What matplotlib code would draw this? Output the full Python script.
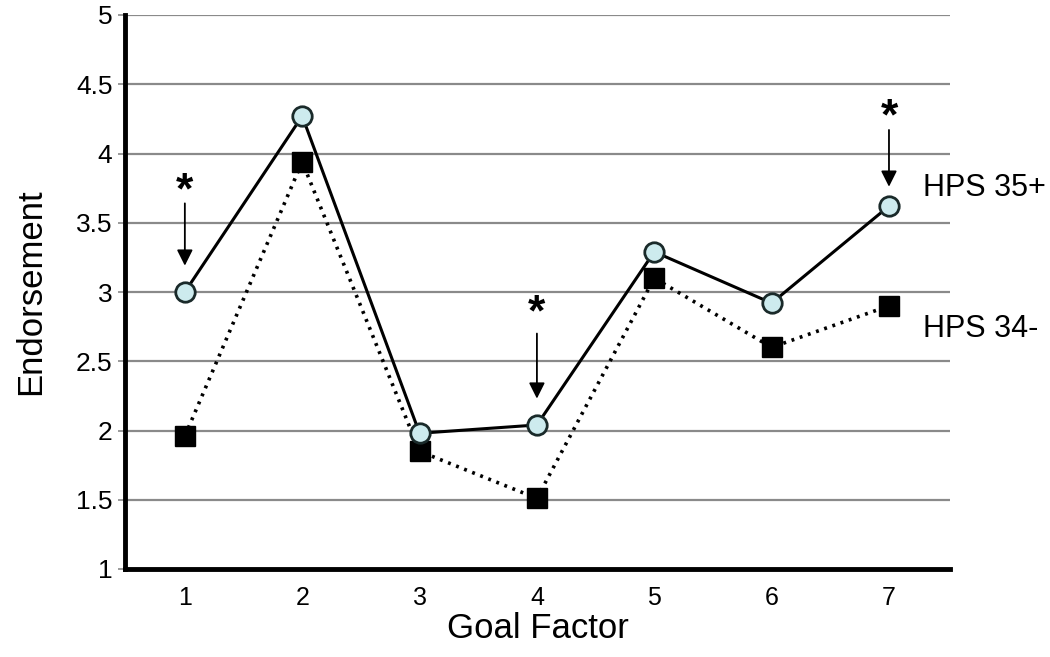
import matplotlib.pyplot as plt

plt.rcParams['font.family'] = ['Liberation Sans', 'DejaVu Sans']

# data
goal_factor = [1, 2, 3, 4, 5, 6, 7]
hps_35_plus = [3.0, 4.27, 1.98, 2.04, 3.29, 2.92, 3.62]
hps_34_minus = [1.96, 3.94, 1.85, 1.51, 3.10, 2.60, 2.90]
y_ticks = [1, 1.5, 2, 2.5, 3, 3.5, 4, 4.5, 5]
y_tick_labels = ['1', '1.5', '2', '2.5', '3', '3.5', '4', '4.5', '5']

# significant factors: (x, star y, arrow start y, arrow end y)
sig_marks = [(1, 3.72, 3.64, 3.19), (4, 2.84, 2.70, 2.23), (7, 4.26, 4.17, 3.76)]

fig = plt.figure(figsize=(10.5, 6.57), dpi=100)
ax = fig.add_axes([125 / 1050, 1 - 569 / 657, (950 - 125) / 1050, (569 - 15) / 657])

ax.set_xlim(0.49, 7.52)
ax.set_ylim(1, 5)

for yv in y_ticks[1:]:
    ax.axhline(yv, color='#8a8a8a', lw=1.6, zorder=1)

ax.plot(goal_factor, hps_34_minus, color='black', lw=2.6, linestyle=(0, (0.8, 1.6)),
        marker='s', markersize=15, markerfacecolor='black', markeredgecolor='black', zorder=3)
ax.plot(goal_factor, hps_35_plus, color='black', lw=2.2, linestyle='-',
        marker='o', markersize=14, markerfacecolor='#cdebee', markeredgecolor='#1a2a2a',
        markeredgewidth=2, zorder=4)

for xv, ys, y0, y1 in sig_marks:
    ax.text(xv, ys, '*', ha='center', va='center', fontsize=32, fontweight='bold')
    ax.annotate('', xy=(xv, y1), xytext=(xv, y0),
                arrowprops=dict(arrowstyle='-|>', color='black', lw=1.3,
                                mutation_scale=24, shrinkA=0, shrinkB=0))

ax.text(7.29, 3.75, 'HPS 35+', ha='left', va='center', fontsize=22, clip_on=False)
ax.text(7.29, 2.73, 'HPS 34-', ha='left', va='center', fontsize=22, clip_on=False)

ax.set_xticks(goal_factor)
ax.set_xticklabels([str(g) for g in goal_factor])
ax.set_yticks(y_ticks)
ax.set_yticklabels(y_tick_labels)
ax.tick_params(axis='x', length=0, labelsize=18, pad=12)
ax.tick_params(axis='y', length=5, width=1.2, color='#8a8a8a', labelsize=19, pad=4)

for side in ['top', 'right']:
    ax.spines[side].set_visible(False)
ax.spines['left'].set_linewidth(3.5)
ax.spines['bottom'].set_linewidth(3.5)

ax.set_xlabel('Goal Factor', fontsize=25, labelpad=2)
ax.set_ylabel('Endorsement', fontsize=25, labelpad=21)

fig.savefig('out.png', dpi=100)
